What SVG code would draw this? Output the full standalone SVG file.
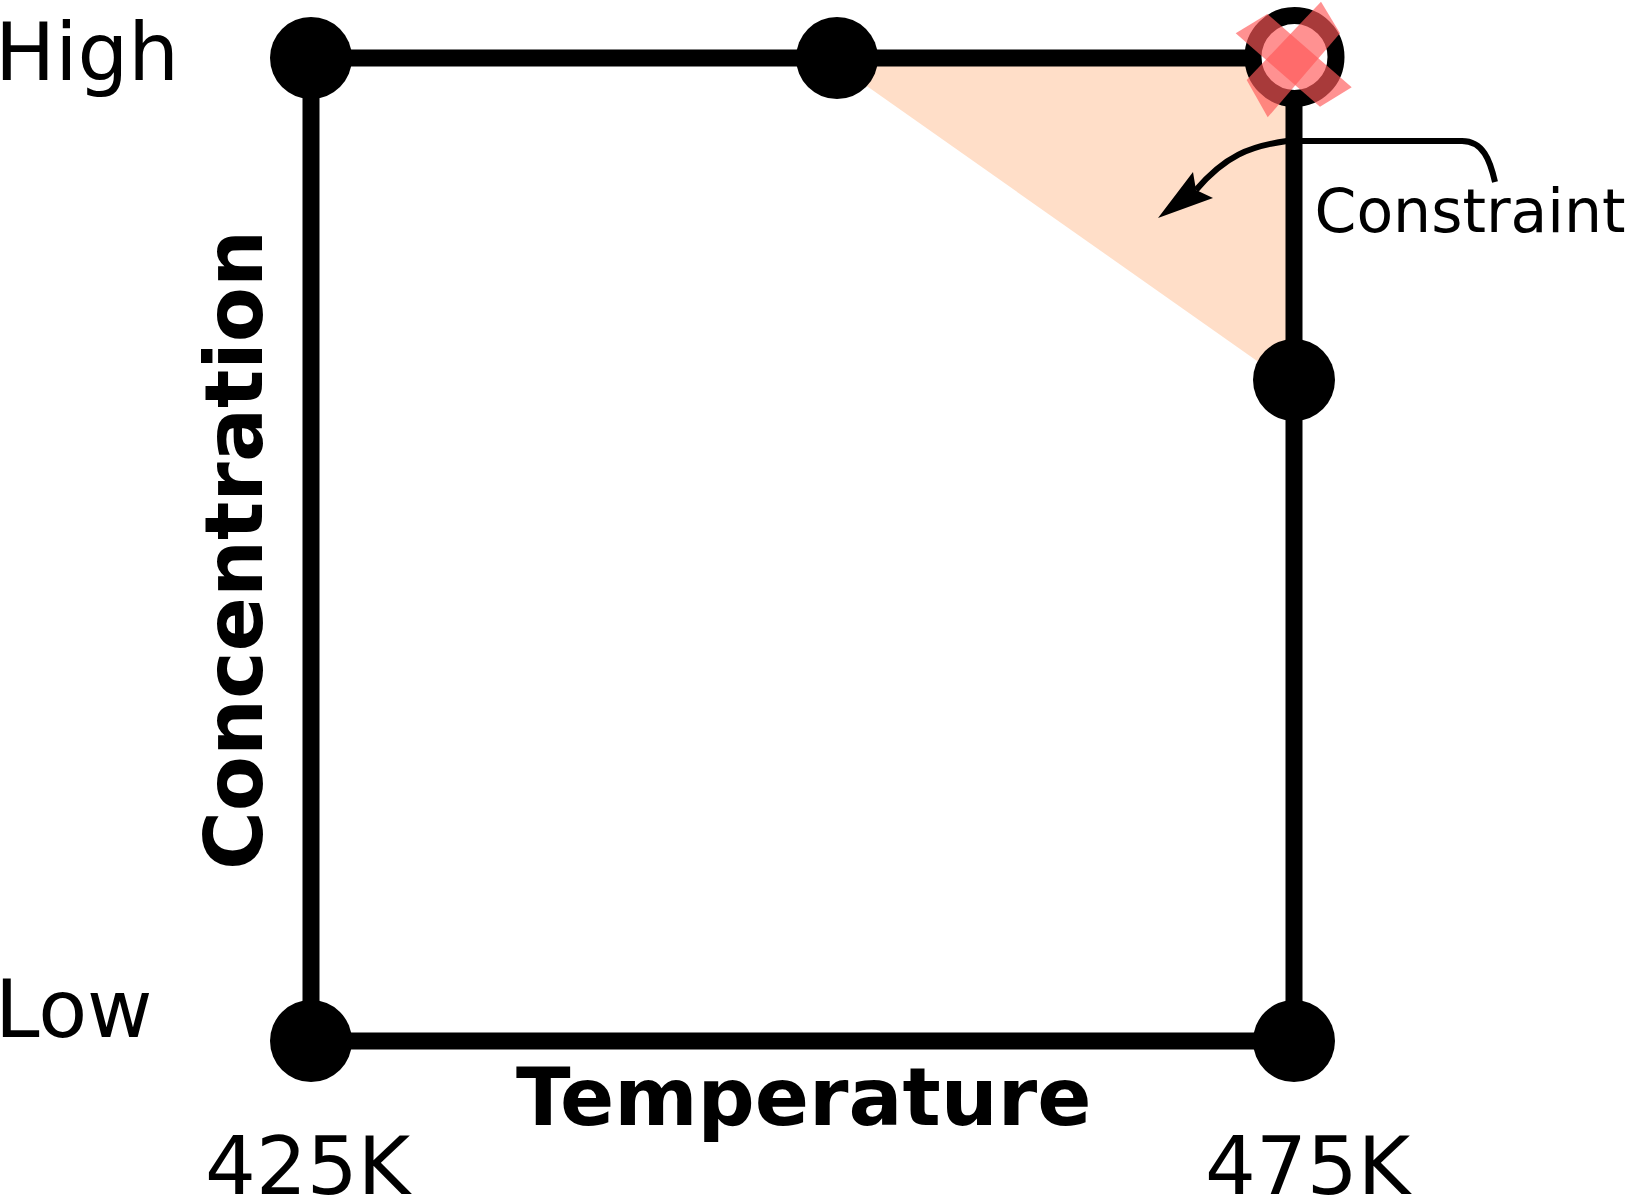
<svg xmlns="http://www.w3.org/2000/svg" width="1627" height="1196" viewBox="0 0 1627 1196">
<style>
.edge{stroke:#000;stroke-width:17;fill:none}
.dot{fill:#000}
.lbl{font-family:"DejaVu Sans","Liberation Sans",sans-serif;font-size:80px;fill:#000}
.bold{font-weight:bold}
.bar{fill:#ff5858;fill-opacity:0.66}
</style>
<rect width="1627" height="1196" fill="#fff"/>
<polygon id="region" points="827,58 1294,58 1294,387" fill="#ffdec8"/>
<g id="connectors">
<line class="edge" x1="311" y1="58" x2="1294" y2="58"/>
<line class="edge" x1="311" y1="58" x2="311" y2="1041"/>
<line class="edge" x1="311" y1="1041" x2="1294" y2="1041"/>
<line class="edge" x1="1294" y1="58" x2="1294" y2="1041"/>
</g>
<g id="node-top-left"><circle class="dot" cx="311" cy="58" r="41"/></g>
<g id="node-top-mid"><circle class="dot" cx="837" cy="58" r="41"/></g>
<g id="node-top-right"><circle cx="1294.5" cy="57" r="41.5" fill="#fff" stroke="#000" stroke-width="17"/></g>
<g id="node-right-mid"><circle class="dot" cx="1294" cy="380" r="41"/></g>
<g id="node-bottom-left"><circle class="dot" cx="311" cy="1041" r="41"/></g>
<g id="node-bottom-right"><circle class="dot" cx="1294" cy="1041" r="41"/></g>
<g id="cross">
<polygon class="bar" points="1321,1.7 1340,33.3 1267.7,117.3 1246.7,80"/>
<polygon class="bar" points="1235.7,33.3 1267.4,14 1351.7,87.3 1320,106.7"/>
</g>
<g id="constraint-callout">
<path d="M1495,182 C1490,160 1483,141 1462,141 L1305,141 C1298,141 1293,140.5 1287,141 C1250,146 1225,156 1196,190" fill="none" stroke="#000" stroke-width="6"/>
<polygon points="1158,218 1193,172 1196,190 1213,198" fill="#000"/>
<text class="lbl" x="1314.5" y="232" style="font-size:60px">Constraint</text>
</g>
<g id="labels">
<text class="lbl" x="-5" y="80">High</text>
<text class="lbl" x="-5" y="1037">Low</text>
<text class="lbl" x="205" y="1194">425K</text>
<text class="lbl" x="1205" y="1194">475K</text>
<text class="lbl bold" x="516" y="1125">Temperature</text>
<text class="lbl bold" transform="translate(262,550) rotate(-90)" text-anchor="middle" textLength="640" lengthAdjust="spacingAndGlyphs">Concentration</text>
</g>
</svg>
